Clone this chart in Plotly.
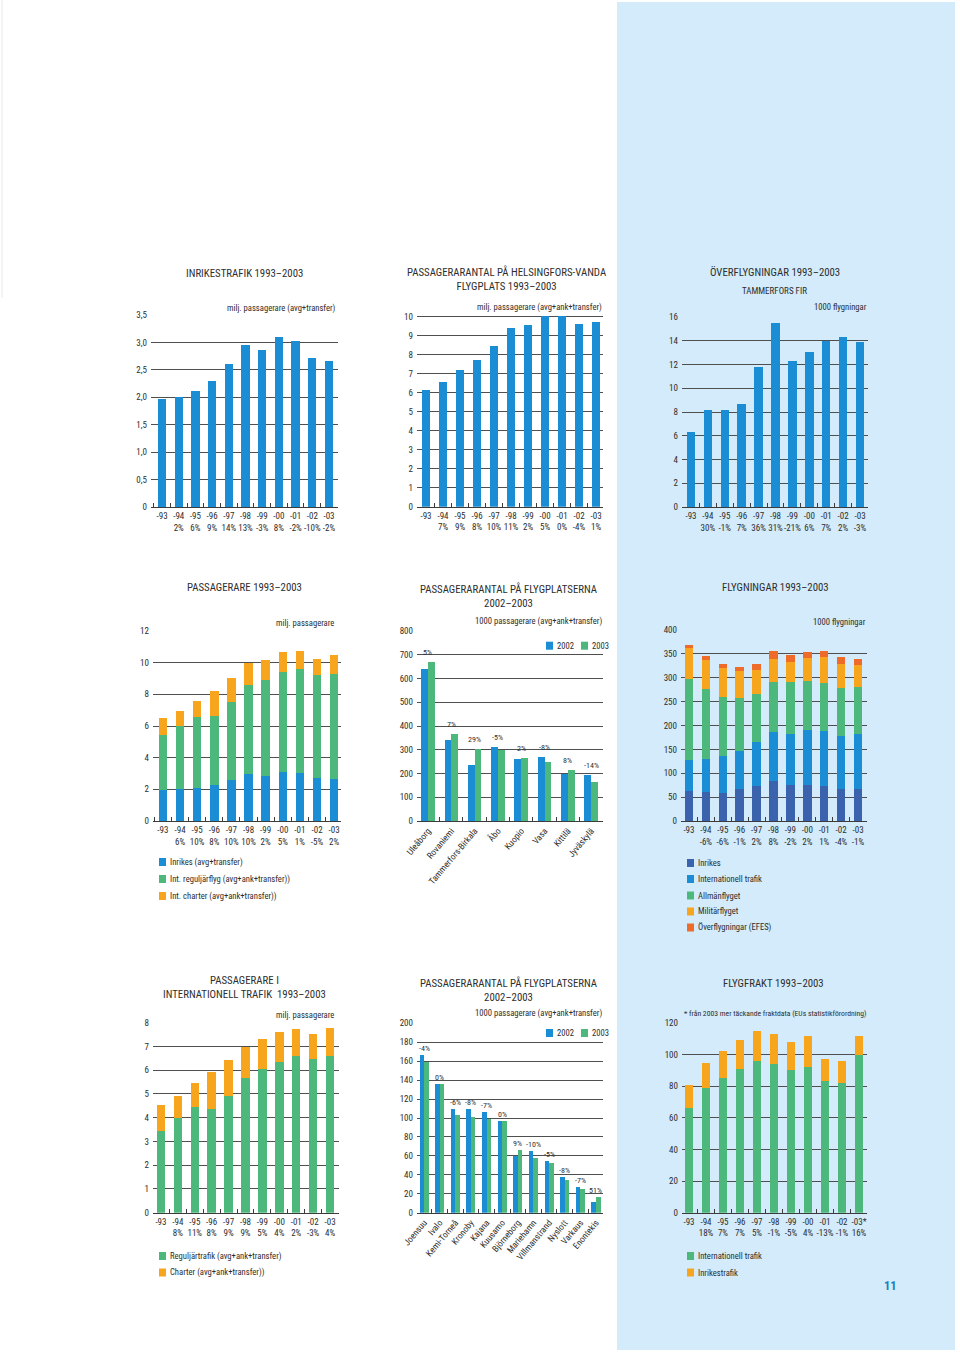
import plotly.graph_objects as go

# ---------------- data ----------------
years = ["-93", "-94", "-95", "-96", "-97", "-98", "-99", "-00", "-01", "-02", "-03"]
freight_years = ["-93", "-94", "-95", "-96", "-97", "-98", "-99", "-00", "-01", "-02", "-03*"]

inrikes_pax = [1.97, 2.00, 2.11, 2.30, 2.61, 2.96, 2.86, 3.10, 3.03, 2.72, 2.67]
inrikes_pct = ["", "2%", "6%", "9%", "14%", "13%", "-3%", "8%", "-2%", "-10%", "-2%"]

hel_pax = [6.15, 6.57, 7.17, 7.72, 8.48, 9.38, 9.58, 10.05, 10.05, 9.62, 9.72]
hel_pct = ["", "7%", "9%", "8%", "10%", "11%", "2%", "5%", "0%", "-4%", "1%"]

overfl = [6.3, 8.2, 8.15, 8.7, 11.8, 15.5, 12.3, 13.05, 14.0, 14.3, 13.9]
overfl_pct = ["", "30%", "-1%", "7%", "36%", "31%", "-21%", "6%", "7%", "2%", "-3%"]

int_reg = [3.45, 3.97, 4.43, 4.36, 4.93, 5.66, 6.04, 6.34, 6.60, 6.49, 6.61]
int_charter = [1.08, 0.96, 1.04, 1.56, 1.50, 1.33, 1.29, 1.25, 1.13, 1.03, 1.18]
pass_pct = ["", "6%", "10%", "8%", "10%", "10%", "2%", "5%", "1%", "-5%", "2%"]
intl_pct = ["", "8%", "11%", "8%", "9%", "9%", "5%", "4%", "2%", "-3%", "4%"]

big_airports = ["Uleåborg", "Rovaniemi", "Tammerfors-Birkala", "Åbo", "Kuopio", "Vasa", "Kittilä", "Jyväskylä"]
big_2002 = [638, 341, 235, 313, 263, 269, 199, 193]
big_2003 = [671, 365, 303, 298, 267, 248, 214, 166]
big_pct = ["5%", "7%", "29%", "-5%", "2%", "-8%", "8%", "-14%"]

small_airports = ["Joensuu", "Ivalo", "Kemi-Torneå", "Kronoby", "Kajana", "Kuusamo", "Björneborg",
                  "Mariehamn", "Villmanstrand", "Nyslott", "Varkaus", "Enontekis"]
small_2002 = [166, 136, 109, 110, 106, 97, 60, 65, 55, 38, 27.5, 11]
small_2003 = [159, 136, 103, 101, 99, 97, 66, 58, 52, 35, 25.5, 16.5]
small_pct = ["-4%", "0%", "-6%", "-8%", "-7%", "0%", "9%", "-10%", "-5%", "-8%", "-7%", "51%"]

fl_inrikes = [62, 61, 59, 66, 73, 83, 75, 75, 73, 66, 66]
fl_intl = [65, 68, 77, 81, 93, 104, 108, 115, 116, 112, 117]
fl_allman = [170, 147, 124, 110, 101, 105, 109, 104, 101, 101, 97]
fl_militar = [65, 62, 60, 57, 50, 47, 42, 47, 53, 50, 47]
fl_efes = [6, 8, 8, 9, 12, 16, 13, 13, 13, 14, 13]
fl_pct = ["", "-6%", "-6%", "-1%", "2%", "8%", "-2%", "2%", "1%", "-4%", "-1%"]

fr_intl = [66, 79, 85, 91, 96, 94, 90, 92, 83, 82, 100]
fr_inrikes = [15, 16, 17, 18, 19, 19, 18, 20, 14, 14, 12]
fr_pct = ["", "18%", "7%", "7%", "5%", "-1%", "-5%", "4%", "-13%", "-1%", "16%"]

p1_yt = [0, 0.5, 1.0, 1.5, 2.0, 2.5, 3.0, 3.5]
p1_ytl = ["0", "0,5", "1,0", "1,5", "2,0", "2,5", "3,0", "3,5"]
p2_yt = list(range(0, 11))
p3_yt = list(range(0, 17, 2))
p4_yt = list(range(0, 13, 2))
p5_yt = list(range(0, 801, 100))
p6_yt = list(range(0, 401, 50))
p7_yt = list(range(0, 9))
p8_yt = list(range(0, 201, 20))
p9_yt = list(range(0, 121, 20))

# ---------------- style ----------------
W, H = 960, 1354
FONT = "Roboto Condensed, Roboto, sans-serif"
TXT = "#2e2e2e"
GRID = "#4f4f4f"
AX = "#3c3c3c"
BLUE = "#1a8dd4"
DBLUE = "#3b63ad"
GREEN = "#4cb87c"
ORANGE = "#f7a51c"
RED = "#ef6b2a"
BG = "#d3ebfa"
TS = 9       # tick size
TITLE = 10.8
UNIT = 8.6


def fx(px):
    return px / W


def fy(py):
    return 1 - py / H


fig = go.Figure()
layout_axes = {}


def ticktexts(cats, pcts):
    return [c if p == "" else f"{c}<br>{p}" for c, p in zip(cats, pcts)]


def add_axes(n, x0, x1, y0px, yrefpx, refval, ymax, xr, cats, xtt, yt, ytl=None, tickangle=0):
    pxu = (y0px - yrefpx) / refval
    ytop = y0px - pxu * ymax
    sx = "" if n == 1 else str(n)
    layout_axes["xaxis" + sx] = dict(
        domain=[fx(x0), fx(x1)], anchor="y" + sx, type="category", automargin=False,
        categoryorder="array", categoryarray=cats, range=xr,
        tickmode="array", tickvals=cats, ticktext=xtt, tickson="boundaries",
        ticks="inside", ticklen=4, tickwidth=1, tickcolor=AX,
        showline=True, linecolor=AX, linewidth=1.4, showgrid=False, zeroline=False,
        tickangle=tickangle, tickfont=dict(family=FONT, size=TS, color=TXT), fixedrange=True)
    layout_axes["yaxis" + sx] = dict(
        domain=[fy(y0px), fy(ytop)], anchor="x" + sx, range=[0, ymax], automargin=False,
        tickmode="array", tickvals=yt, ticktext=ytl if ytl else [str(v) for v in yt],
        showgrid=True, gridcolor=GRID, gridwidth=1.4, zeroline=False, showline=False,
        ticks="", ticklabelstandoff=3, tickfont=dict(family=FONT, size=TS, color=TXT), fixedrange=True)


def bar(n, x, y, color, width=0.5, offset=None, xname=None):
    sx = "" if n == 1 else str(n)
    fig.add_trace(go.Bar(
        x=x, y=y, xaxis="x" + (xname if xname else sx), yaxis="y" + sx,
        marker=dict(color=color, line=dict(width=0)), width=width, offset=offset,
        showlegend=False, hoverinfo="skip"))


add_axes(1, 151, 338, 507, 315, 3.5, 3.5, [-0.66, 10.54], years, ticktexts(years, inrikes_pct), p1_yt, p1_ytl)
add_axes(2, 417, 603, 506.7, 316.7, 10, 10.1, [-0.53, 10.41], years, ticktexts(years, hel_pct), p2_yt)
add_axes(3, 682, 868, 507, 317, 16, 16, [-0.53, 10.47], years, ticktexts(years, overfl_pct), p3_yt)
add_axes(4, 153, 341, 821, 631, 12, 12, [-0.58, 10.4], years, ticktexts(years, pass_pct), p4_yt)
add_axes(5, 417, 603, 821, 631, 800, 800, [-0.47, 7.51], big_airports, big_airports, p5_yt, tickangle=-50)
add_axes(6, 681, 867, 821, 630, 400, 400, [-0.47, 10.53], years, ticktexts(years, fl_pct), p6_yt)
add_axes(7, 153, 339, 1212.7, 1022.7, 8, 8, [-0.47, 10.53], years, ticktexts(years, intl_pct), p7_yt)
add_axes(8, 417, 603, 1212.7, 1023.3, 200, 200, [-0.45, 11.45], small_airports, small_airports, p8_yt, tickangle=-50)
add_axes(9, 682, 867, 1212.7, 1023, 120, 120, [-0.41, 10.47], freight_years, ticktexts(freight_years, fr_pct), p9_yt)

layout_axes["xaxis10"] = dict(overlaying="x5", matches="x5", type="category", anchor="y5", automargin=False,
                              categoryorder="array", categoryarray=big_airports, visible=False)
layout_axes["xaxis11"] = dict(overlaying="x8", matches="x8", type="category", anchor="y8", automargin=False,
                              categoryorder="array", categoryarray=small_airports, visible=False)

bar(1, years, inrikes_pax, BLUE)
bar(2, years, hel_pax, BLUE)
bar(3, years, overfl, BLUE)
bar(4, years, inrikes_pax, BLUE)
bar(4, years, int_reg, GREEN)
bar(4, years, int_charter, ORANGE)
bar(5, big_airports, big_2002, BLUE, width=0.29, offset=-0.29)
bar(5, big_airports, big_2003, GREEN, width=0.29, offset=0, xname="10")
bar(6, years, fl_inrikes, DBLUE)
bar(6, years, fl_intl, BLUE)
bar(6, years, fl_allman, GREEN)
bar(6, years, fl_militar, ORANGE)
bar(6, years, fl_efes, RED)
bar(7, years, int_reg, GREEN)
bar(7, years, int_charter, ORANGE)
bar(8, small_airports, small_2002, BLUE, width=0.29, offset=-0.29)
bar(8, small_airports, small_2003, GREEN, width=0.29, offset=0, xname="11")
bar(9, freight_years, fr_intl, GREEN)
bar(9, freight_years, fr_inrikes, ORANGE)

annotations = []
shapes = []

shapes.append(dict(type="rect", xref="paper", yref="paper", x0=fx(617), x1=fx(955), y0=fy(1350), y1=fy(2),
                   fillcolor=BG, line=dict(width=0), layer="below"))
shapes.append(dict(type="line", xref="paper", yref="paper", x0=fx(2), x1=fx(2), y0=fy(298), y1=fy(0),
                   line=dict(color="#e8e8e8", width=1), layer="below"))


def text(px, py, s, size=UNIT, xanchor="center", color=TXT, bold=False):
    annotations.append(dict(x=fx(px), y=fy(py), xref="paper", yref="paper", text=f"<b>{s}</b>" if bold else s,
                            showarrow=False, xanchor=xanchor, yanchor="middle",
                            font=dict(family=FONT, size=size, color=color)))


def legend_item(px, py, color, label):
    shapes.append(dict(type="rect", xref="paper", yref="paper", x0=fx(px), x1=fx(px + 7),
                       y0=fy(py + 4), y1=fy(py - 4), fillcolor=color, line=dict(width=0)))
    text(px + 9, py, label, size=UNIT, xanchor="left")


text(245, 273, "INRIKESTRAFIK 1993–2003", size=TITLE)
text(338, 308, "milj. passagerare (avg+transfer)", xanchor="right")
text(507, 279.5, "PASSAGERARANTAL PÅ HELSINGFORS-VANDA<br>FLYGPLATS 1993–2003", size=TITLE)
text(604, 307, "milj. passagerare (avg+ank+transfer)", xanchor="right")
text(775, 272, "ÖVERFLYGNINGAR 1993–2003", size=TITLE)
text(774, 291, "TAMMERFORS FIR", size=9)
text(869, 307, "1000 flygningar", xanchor="right")

text(245, 588, "PASSAGERARE 1993–2003", size=TITLE)
text(336, 623, "milj. passagerare", xanchor="right")
text(509, 595.5, "PASSAGERARANTAL PÅ FLYGPLATSERNA<br>2002–2003", size=TITLE)
text(604, 622, "1000 passagerare (avg+ank+transfer)", xanchor="right")
text(775, 588, "FLYGNINGAR 1993–2003", size=TITLE)
text(868, 622, "1000 flygningar", xanchor="right")

text(245, 987.5, "PASSAGERARE I<br>INTERNATIONELL TRAFIK  1993–2003", size=TITLE)
text(336, 1015, "milj. passagerare", xanchor="right")
text(509, 990, "PASSAGERARANTAL PÅ FLYGPLATSERNA<br>2002–2003", size=TITLE)
text(604, 1013, "1000 passagerare (avg+ank+transfer)", xanchor="right")
text(773, 983, "FLYGFRAKT 1993–2003", size=TITLE)
text(868, 1013, "* från 2003 mer täckande fraktdata (EUs statistikförordning)", size=7.7, xanchor="right")

legend_item(159, 862, BLUE, "Inrikes (avg+transfer)")
legend_item(159, 879, GREEN, "Int. reguljärflyg (avg+ank+transfer))")
legend_item(159, 896, ORANGE, "Int. charter (avg+ank+transfer))")
legend_item(546, 645.7, BLUE, "2002")
legend_item(581, 645.7, GREEN, "2003")
legend_item(687, 863, DBLUE, "Inrikes")
legend_item(687, 879, BLUE, "Internationell trafik")
legend_item(687, 895.5, GREEN, "Allmänflyget")
legend_item(687, 911.5, ORANGE, "Militärflyget")
legend_item(687, 927.5, RED, "Överflygningar (EFES)")
legend_item(159, 1256, GREEN, "Reguljärtrafik (avg+ank+transfer)")
legend_item(159, 1272.5, ORANGE, "Charter (avg+ank+transfer))")
legend_item(546, 1033, BLUE, "2002")
legend_item(581, 1033, GREEN, "2003")
legend_item(687, 1256, GREEN, "Internationell trafik")
legend_item(687, 1272.5, ORANGE, "Inrikestrafik")

for name, a, b, p in zip(big_airports, big_2002, big_2003, big_pct):
    annotations.append(dict(x=name, y=max(a, b), xref="x5", yref="y5", text=p, showarrow=False,
                            yanchor="bottom", yshift=3, font=dict(family=FONT, size=8, color=TXT)))
for name, a, b, p in zip(small_airports, small_2002, small_2003, small_pct):
    annotations.append(dict(x=name, y=max(a, b), xref="x8", yref="y8", text=p, showarrow=False,
                            yanchor="bottom", yshift=0, font=dict(family=FONT, size=8, color=TXT)))

text(890, 1285, "11", size=12.5, color="#1a7fc1", bold=True)

fig.update_layout(
    width=W, height=H, margin=dict(l=0, r=0, t=0, b=0, autoexpand=False),
    paper_bgcolor="white", plot_bgcolor="rgba(0,0,0,0)",
    barmode="stack", showlegend=False,
    font=dict(family=FONT, size=TS, color=TXT),
    annotations=annotations, shapes=shapes,
    **layout_axes)

fig.write_html("out.html", config={"displayModeBar": False, "responsive": False},
               post_script="document.body.style.margin='0px';document.body.style.overflow='hidden';")
